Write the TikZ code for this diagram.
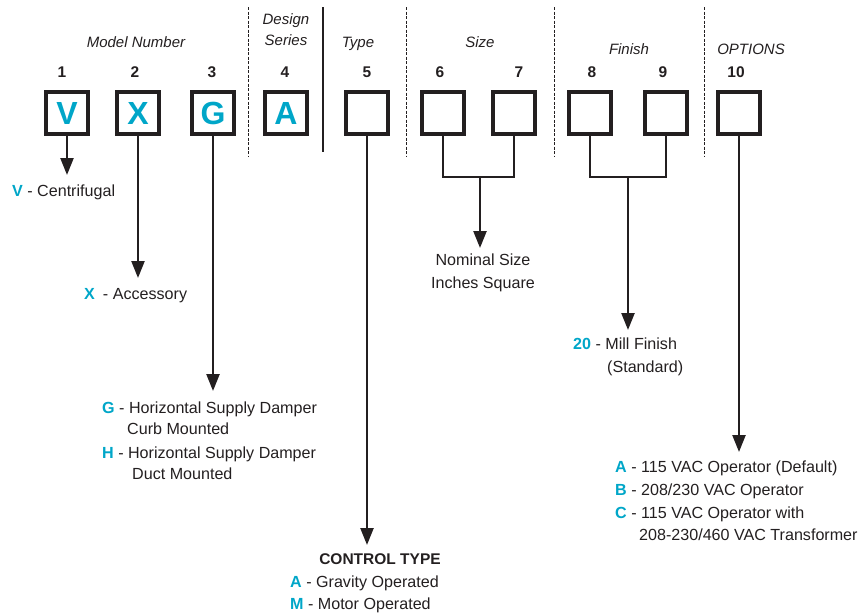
\documentclass[tikz,border=0pt]{standalone}
\usepackage{fontspec}
\setmainfont{Liberation Sans}
\usetikzlibrary{arrows.meta, positioning}
\definecolor{codecyan}{RGB}{0,166,200}
\definecolor{ink}{RGB}{35,31,32}
\newcommand{\cc}[1]{\textcolor{codecyan}{\bfseries #1}}

\begin{document}
\begin{tikzpicture}[x=1pt, y=-1pt, >={Triangle[length=17pt, width=13pt]},
	font=\fontsize{16.1}{18}\selectfont, text=ink,
	box/.style={draw=ink, line width=3.8pt, minimum size=42.2pt, inner sep=0pt,
		font=\fontsize{32}{32}\selectfont\bfseries, text=codecyan},
	num/.style={anchor=base, font=\fontsize{15.5}{18}\selectfont\bfseries},
	hdr/.style={anchor=base, font=\fontsize{15}{18}\selectfont\itshape},
	txt/.style={anchor=base west, inner sep=0pt},
	ctr/.style={anchor=base, inner sep=0pt},
	link/.style={draw=ink, line width=2.4pt},
	sep/.style={draw=ink, line width=1pt, dash pattern=on 3pt off 1.5pt}]
	
	\useasboundingbox (0,0) rectangle (860,616);
	
	% 1. Group headers
	\node[hdr] (hmodel) at (136,47) {Model Number};
	\node[hdr] (hdesign) at (286,24) {Design};
	\node[hdr] (hseries) at (286,45) {Series};
	\node[hdr] (htype) at (358,47) {Type};
	\node[hdr] (hsize) at (480,47) {Size};
	\node[hdr] (hfinish) at (629,54) {Finish};
	\node[hdr] (hoptions) at (751,54) {OPTIONS};
	
	% Separators between groups
	\draw[sep] (248,7) -- (248,157);
	\draw[ink, line width=1.3pt] (323,7) -- (323,152);
	\draw[sep] (406,7) -- (406,157);
	\draw[sep] (554,7) -- (554,157);
	\draw[sep] (704,7) -- (704,157);
	
	% 2. Digit positions
	\node[num] (n1) at (62,77) {1};
	\node[num] (n2) at (135,77) {2};
	\node[num] (n3) at (212,77) {3};
	\node[num] (n4) at (285,77) {4};
	\node[num] (n5) at (367,77) {5};
	\node[num] (n6) at (440,77) {6};
	\node[num] (n7) at (519,77) {7};
	\node[num] (n8) at (592,77) {8};
	\node[num] (n9) at (663,77) {9};
	\node[num] (n10) at (736,77) {10};
	
	% 3. Code boxes
	\node[box] (b1) at (67,113) {V};
	\node[box] (b2) at (138,113) {X};
	\node[box] (b3) at (213,113) {G};
	\node[box] (b4) at (286,113) {A};
	\node[box] (b5) at (367,113) {};
	\node[box] (b6) at (443,113) {};
	\node[box] (b7) at (514,113) {};
	\node[box] (b8) at (590,113) {};
	\node[box] (b9) at (666,113) {};
	\node[box] (b10) at (739,113) {};
	
	% 4. Descriptions
	\node[txt] (lv) at (12,196) {\cc{V} - Centrifugal};
	\node[txt] (lx) at (84,299) {\cc{X}\enspace - Accessory};
	\node[txt] (lg) at (102,413) {\cc{G} - Horizontal Supply Damper};
	\node[txt] (lg2) at (127,434) {Curb Mounted};
	\node[txt] (lh) at (102,458) {\cc{H} - Horizontal Supply Damper};
	\node[txt] (lh2) at (132,479) {Duct Mounted};
	
	\node[ctr, font=\fontsize{15.5}{18}\selectfont\bfseries] (lctrl) at (380,564) {CONTROL TYPE};
	\node[txt] (la) at (290,587) {\cc{A} - Gravity Operated};
	\node[txt] (lm) at (290,609) {\cc{M} - Motor Operated};
	
	\node[ctr] (lsize) at (483,265) {Nominal Size};
	\node[ctr] (lsize2) at (483,288) {Inches Square};
	
	\node[txt] (lmill) at (573,349) {\cc{20} - Mill Finish};
	\node[txt] (lmill2) at (607,372) {(Standard)};
	
	\node[txt] (loa) at (615,472) {\cc{A} - 115 VAC Operator (Default)};
	\node[txt] (lob) at (615,495) {\cc{B} - 208/230 VAC Operator};
	\node[txt] (loc) at (615,518) {\cc{C} - 115 VAC Operator with};
	\node[txt] (loc2) at (639,540) {208-230/460 VAC Transformer};
	
	% 5. Connectors
	\coordinate (tv) at (67,175);
	\coordinate (tx) at (138,278);
	\coordinate (tg) at (213,391);
	\coordinate (tctrl) at (367,545);
	\coordinate (j67) at (480,177);
	\coordinate (tsize) at (480,248);
	\coordinate (j89) at (628,177);
	\coordinate (tmill) at (628,330);
	\coordinate (topt) at (739,452);
	
	\draw[link, ->] (b1.south) -- (tv);
	\draw[link, ->] (b2.south) -- (tx);
	\draw[link, ->] (b3.south) -- (tg);
	\draw[link, ->] (b5.south) -- (tctrl);
	\draw[link] (b6.south) |- (j67) -| (b7.south);
	\draw[link, ->] (j67) -- (tsize);
	\draw[link] (b8.south) |- (j89) -| (b9.south);
	\draw[link, ->] (j89) -- (tmill);
	\draw[link, ->] (b10.south) -- (topt);
	
\end{tikzpicture}
\end{document}
